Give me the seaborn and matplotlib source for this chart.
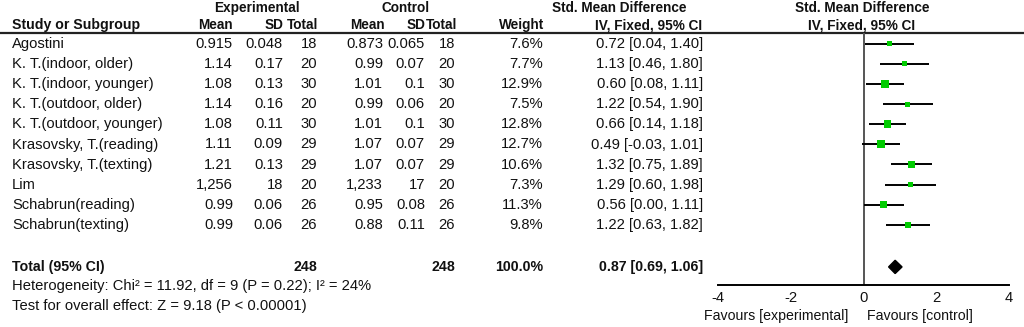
import numpy as np
import matplotlib
matplotlib.use("Agg")
import matplotlib.pyplot as plt
import seaborn as sns

# Study rows (values as printed in the table)
STUDIES = ["Agostini", "K. T.(indoor, older)", "K. T.(indoor, younger)", "K. T.(outdoor, older)",
           "K. T.(outdoor, younger)", "Krasovsky, T.(reading)", "Krasovsky, T.(texting)", "Lim",
           "Schabrun(reading)", "Schabrun(texting)"]
EXP_MEAN = ["0.915", "1.14", "1.08", "1.14", "1.08", "1.11", "1.21", "1,256", "0.99", "0.99"]
EXP_SD = ["0.048", "0.17", "0.13", "0.16", "0.11", "0.09", "0.13", "18", "0.06", "0.06"]
EXP_N = [18, 20, 30, 20, 30, 29, 29, 20, 26, 26]
CTL_MEAN = ["0.873", "0.99", "1.01", "0.99", "1.01", "1.07", "1.07", "1,233", "0.95", "0.88"]
CTL_SD = ["0.065", "0.07", "0.1", "0.06", "0.1", "0.07", "0.07", "17", "0.08", "0.11"]
CTL_N = [18, 20, 30, 20, 30, 29, 29, 20, 26, 26]
WEIGHT = [7.6, 7.7, 12.9, 7.5, 12.8, 12.7, 10.6, 7.3, 11.3, 9.8]
SMD = [0.72, 1.13, 0.60, 1.22, 0.66, 0.49, 1.32, 1.29, 0.56, 1.22]
CI_LO = [0.04, 0.46, 0.08, 0.54, 0.14, -0.03, 0.75, 0.60, 0.00, 0.63]
CI_HI = [1.40, 1.80, 1.11, 1.90, 1.18, 1.01, 1.89, 1.98, 1.11, 1.82]

TOTAL_EXP_N = 248
TOTAL_CTL_N = 248
TOTAL_WEIGHT = 100.0
TOTAL_SMD, TOTAL_LO, TOTAL_HI = 0.87, 0.69, 1.06
HETEROGENEITY = "Heterogeneity: Chi\u00b2 = 11.92, df = 9 (P = 0.22); I\u00b2 = 24%"
OVERALL = "Test for overall effect: Z = 9.18 (P < 0.00001)"
X_TICKS = [-4, -2, 0, 2, 4]

W, H = 1024, 327
ROW0, ROW_STEP = 44.0, 20.1
TOTAL_ROW = 11.1

sns.set_style("white")
plt.rcParams["font.family"] = ["Liberation Sans", "DejaVu Sans"]
FS = 10.6
FS_HEAD = 9.8
TXT = "#111111"

fig = plt.figure(figsize=(W / 100, H / 100), dpi=100)

# table layer in pixel coordinates
tab = fig.add_axes([0, 0, 1, 1])
tab.set_xlim(0, W)
tab.set_ylim(H, 0)
tab.axis("off")


def put(x, y, s, ha="right", bold=False, size=FS):
    tab.text(x, y, s, ha=ha, va="center", fontsize=size, color=TXT,
             fontweight="bold" if bold else "normal")


def row_px(i):
    return ROW0 + ROW_STEP * i


# headers
put(257, 8, "Experimental", ha="center", bold=True, size=FS_HEAD)
put(406, 8, "Control", ha="center", bold=True, size=FS_HEAD)
put(686, 8, "Std. Mean Difference", bold=True, size=FS_HEAD)
put(862, 8, "Std. Mean Difference", ha="center", bold=True, size=FS_HEAD)
put(12, 25, "Study or Subgroup", ha="left", bold=True, size=10.2)
for x, s in [(233, "Mean"), (283, "SD"), (318, "Total"), (385, "Mean"), (425, "SD"),
             (457, "Total"), (544, "Weight"), (702, "IV, Fixed, 95% CI")]:
    put(x, 25, s, bold=True, size=FS_HEAD)
put(862, 25, "IV, Fixed, 95% CI", ha="center", bold=True, size=FS_HEAD)
tab.axhline(33, color="#222222", lw=1.6)

for i, name in enumerate(STUDIES):
    y = row_px(i)
    put(12, y, name, ha="left")
    put(233, y, EXP_MEAN[i])
    put(283, y, EXP_SD[i])
    put(317, y, str(EXP_N[i]))
    put(383, y, CTL_MEAN[i])
    put(425, y, CTL_SD[i])
    put(455, y, str(CTL_N[i]))
    put(543, y, "%.1f%%" % WEIGHT[i])
    put(703, y, "%.2f [%.2f, %.2f]" % (SMD[i], CI_LO[i], CI_HI[i]))

yt = row_px(TOTAL_ROW)
put(12, yt, "Total (95% CI)", ha="left", bold=True, size=10.2)
put(317, yt, str(TOTAL_EXP_N), bold=True, size=10.2)
put(455, yt, str(TOTAL_CTL_N), bold=True, size=10.2)
put(543, yt, "%.1f%%" % TOTAL_WEIGHT, bold=True, size=10.2)
put(703, yt, "%.2f [%.2f, %.2f]" % (TOTAL_SMD, TOTAL_LO, TOTAL_HI), bold=True, size=10.2)
put(12, 286, HETEROGENEITY, ha="left")
put(12, 306, OVERALL, ha="left")
put(848, 316, "Favours [experimental]", size=10.2)
put(867, 316, "Favours [control]", ha="left", size=10.2)

# forest plot
ax = fig.add_axes([718 / W, (H - 285) / H, 291 / W, (285 - 33) / H])
ax.patch.set_alpha(0)
rows = np.arange(len(STUDIES))
ax.set_xlim(-4, 4)
ax.set_ylim(12, -0.54)
ax.axvline(0, color="#555555", lw=1.4, zorder=1)
ax.hlines(rows, CI_LO, CI_HI, color="black", lw=1.4, zorder=2)
sns.scatterplot(x=SMD, y=rows, size=WEIGHT, sizes=(12, 32), marker="s",
                color="#00cc00", linewidth=0, legend=False, ax=ax, zorder=3)
d = 0.33
ax.fill([TOTAL_LO, TOTAL_SMD, TOTAL_HI, TOTAL_SMD],
        [TOTAL_ROW, TOTAL_ROW - d, TOTAL_ROW, TOTAL_ROW + d], color="black", zorder=3)
for s in ["top", "left", "right"]:
    ax.spines[s].set_visible(False)
ax.spines["bottom"].set_color("black")
ax.spines["bottom"].set_linewidth(1.4)
ax.set_yticks([])
ax.set_xticks(X_TICKS)
ax.set_xticklabels([str(t) for t in X_TICKS])
ax.tick_params(axis="x", direction="inout", length=9, width=1.4, pad=0,
               labelsize=FS, labelcolor=TXT)

fig.savefig("out.png", dpi=100)
